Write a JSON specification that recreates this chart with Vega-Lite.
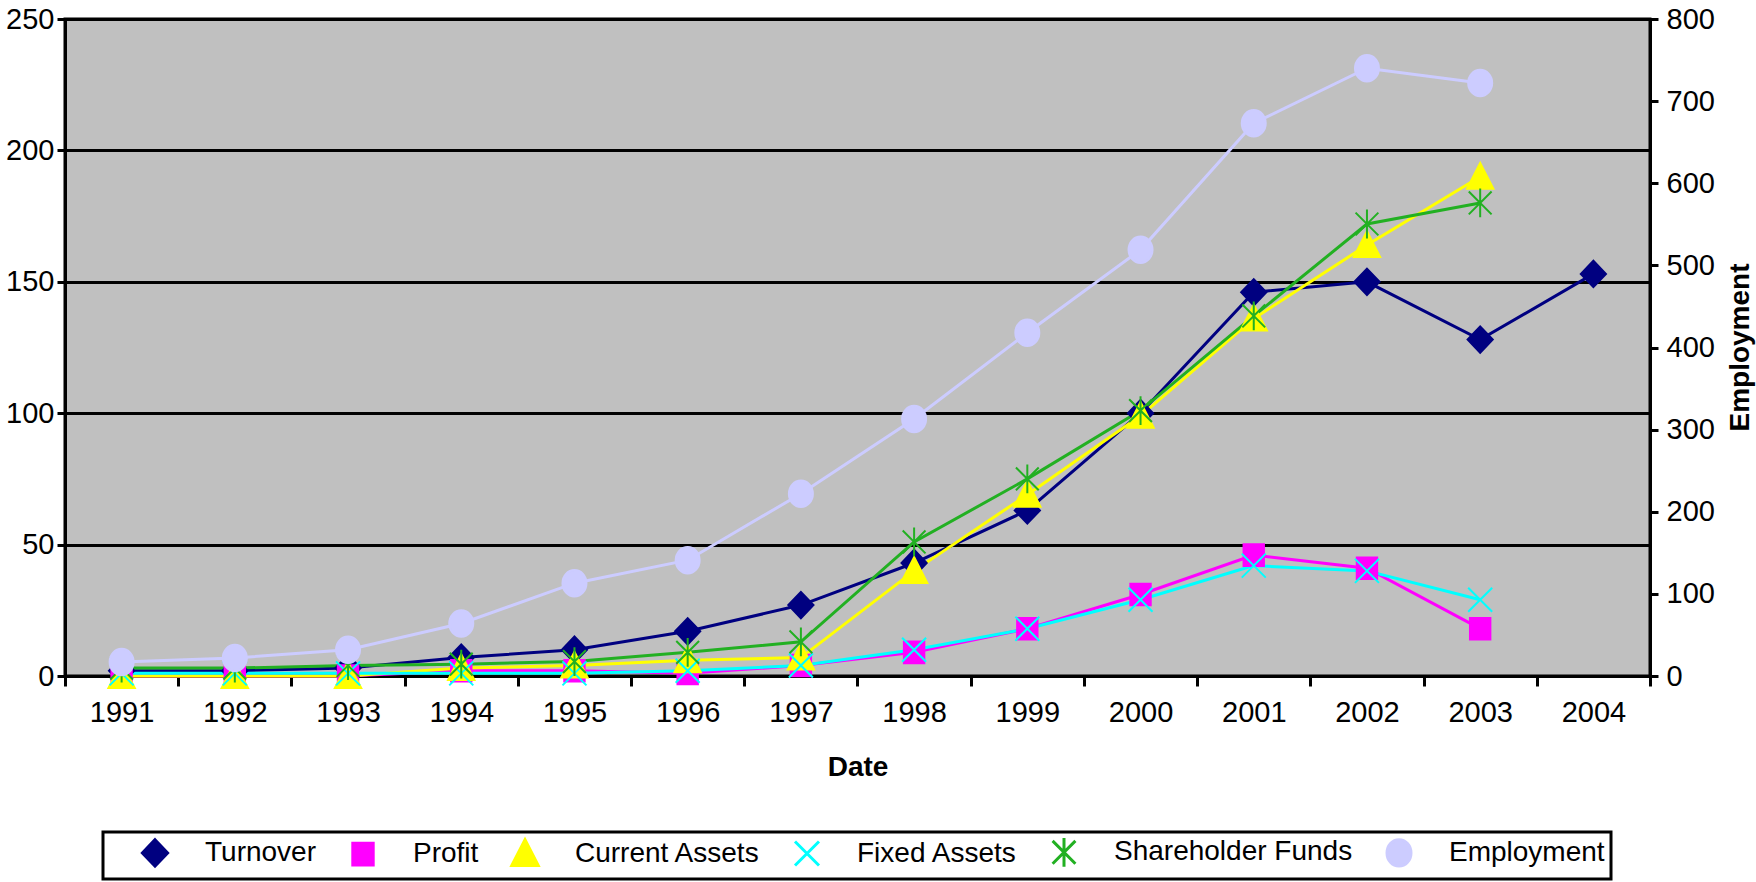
{
  "$schema": "https://vega.github.io/schema/vega-lite/v6.json",
  "width": 1585,
  "height": 657,
  "autosize": {"type": "none"},
  "padding": {"left": 65, "top": 19, "right": 106, "bottom": 206},
  "background": "white",
  "config": {
    "font": "Liberation Sans",
    "view": {"fill": "#C0C0C0", "stroke": "#000000", "strokeWidth": 3},
    "axis": {
      "labelFont": "Liberation Sans", "labelFontSize": 29, "labelColor": "#000000",
      "titleFont": "Liberation Sans", "titleFontSize": 28, "titleFontWeight": "bold", "titleColor": "#000000",
      "domainColor": "#000000", "domainWidth": 3, "tickColor": "#000000", "tickWidth": 3, "tickSize": 9
    },
    "legend": {"strokeWidth": 3}
  },
  "data": {"values": [
    {"Year": "1991", "Series": "Turnover", "Value": 2},
    {"Year": "1992", "Series": "Turnover", "Value": 2},
    {"Year": "1993", "Series": "Turnover", "Value": 3},
    {"Year": "1994", "Series": "Turnover", "Value": 7},
    {"Year": "1995", "Series": "Turnover", "Value": 10},
    {"Year": "1996", "Series": "Turnover", "Value": 17},
    {"Year": "1997", "Series": "Turnover", "Value": 27},
    {"Year": "1998", "Series": "Turnover", "Value": 43},
    {"Year": "1999", "Series": "Turnover", "Value": 63},
    {"Year": "2000", "Series": "Turnover", "Value": 100},
    {"Year": "2001", "Series": "Turnover", "Value": 146},
    {"Year": "2002", "Series": "Turnover", "Value": 150},
    {"Year": "2003", "Series": "Turnover", "Value": 128},
    {"Year": "2004", "Series": "Turnover", "Value": 153},
    {"Year": "1991", "Series": "Profit", "Value": 0},
    {"Year": "1992", "Series": "Profit", "Value": 0},
    {"Year": "1993", "Series": "Profit", "Value": 0},
    {"Year": "1994", "Series": "Profit", "Value": 2},
    {"Year": "1995", "Series": "Profit", "Value": 2},
    {"Year": "1996", "Series": "Profit", "Value": 1},
    {"Year": "1997", "Series": "Profit", "Value": 4},
    {"Year": "1998", "Series": "Profit", "Value": 9},
    {"Year": "1999", "Series": "Profit", "Value": 18},
    {"Year": "2000", "Series": "Profit", "Value": 31},
    {"Year": "2001", "Series": "Profit", "Value": 46},
    {"Year": "2002", "Series": "Profit", "Value": 41},
    {"Year": "2003", "Series": "Profit", "Value": 18},
    {"Year": "1991", "Series": "Current Assets", "Value": 0},
    {"Year": "1992", "Series": "Current Assets", "Value": 0},
    {"Year": "1993", "Series": "Current Assets", "Value": 0},
    {"Year": "1994", "Series": "Current Assets", "Value": 3},
    {"Year": "1995", "Series": "Current Assets", "Value": 4},
    {"Year": "1996", "Series": "Current Assets", "Value": 6},
    {"Year": "1997", "Series": "Current Assets", "Value": 7},
    {"Year": "1998", "Series": "Current Assets", "Value": 40},
    {"Year": "1999", "Series": "Current Assets", "Value": 69},
    {"Year": "2000", "Series": "Current Assets", "Value": 99},
    {"Year": "2001", "Series": "Current Assets", "Value": 136},
    {"Year": "2002", "Series": "Current Assets", "Value": 164},
    {"Year": "2003", "Series": "Current Assets", "Value": 190},
    {"Year": "1991", "Series": "Fixed Assets", "Value": 1},
    {"Year": "1992", "Series": "Fixed Assets", "Value": 1},
    {"Year": "1993", "Series": "Fixed Assets", "Value": 1},
    {"Year": "1994", "Series": "Fixed Assets", "Value": 1},
    {"Year": "1995", "Series": "Fixed Assets", "Value": 1},
    {"Year": "1996", "Series": "Fixed Assets", "Value": 2},
    {"Year": "1997", "Series": "Fixed Assets", "Value": 4},
    {"Year": "1998", "Series": "Fixed Assets", "Value": 10},
    {"Year": "1999", "Series": "Fixed Assets", "Value": 18},
    {"Year": "2000", "Series": "Fixed Assets", "Value": 29},
    {"Year": "2001", "Series": "Fixed Assets", "Value": 42},
    {"Year": "2002", "Series": "Fixed Assets", "Value": 40},
    {"Year": "2003", "Series": "Fixed Assets", "Value": 29},
    {"Year": "1991", "Series": "Shareholder Funds", "Value": 3},
    {"Year": "1992", "Series": "Shareholder Funds", "Value": 3},
    {"Year": "1993", "Series": "Shareholder Funds", "Value": 4},
    {"Year": "1994", "Series": "Shareholder Funds", "Value": 4.5},
    {"Year": "1995", "Series": "Shareholder Funds", "Value": 5.5},
    {"Year": "1996", "Series": "Shareholder Funds", "Value": 9},
    {"Year": "1997", "Series": "Shareholder Funds", "Value": 13},
    {"Year": "1998", "Series": "Shareholder Funds", "Value": 51},
    {"Year": "1999", "Series": "Shareholder Funds", "Value": 75},
    {"Year": "2000", "Series": "Shareholder Funds", "Value": 101},
    {"Year": "2001", "Series": "Shareholder Funds", "Value": 137},
    {"Year": "2002", "Series": "Shareholder Funds", "Value": 172},
    {"Year": "2003", "Series": "Shareholder Funds", "Value": 180},
    {"Year": "1991", "Series": "Employment", "Value": 17},
    {"Year": "1992", "Series": "Employment", "Value": 22},
    {"Year": "1993", "Series": "Employment", "Value": 32},
    {"Year": "1994", "Series": "Employment", "Value": 64},
    {"Year": "1995", "Series": "Employment", "Value": 113},
    {"Year": "1996", "Series": "Employment", "Value": 141},
    {"Year": "1997", "Series": "Employment", "Value": 222},
    {"Year": "1998", "Series": "Employment", "Value": 313},
    {"Year": "1999", "Series": "Employment", "Value": 418},
    {"Year": "2000", "Series": "Employment", "Value": 519},
    {"Year": "2001", "Series": "Employment", "Value": 673},
    {"Year": "2002", "Series": "Employment", "Value": 740},
    {"Year": "2003", "Series": "Employment", "Value": 722}
  ]},
  "layer": [
    {
      "transform": [{"filter": "datum.Series !== 'Employment'"}],
      "encoding": {
        "x": {"field": "Year", "type": "ordinal", "scale": {"type": "band", "paddingInner": 0, "paddingOuter": 0},
              "axis": {"title": "Date", "labelAngle": 0, "tickBand": "extent", "labelPadding": 12, "tickSize": 10, "titleY": 91, "titleBaseline": "middle"}},
        "y": {"field": "Value", "type": "quantitative", "scale": {"domain": [0, 250], "nice": false},
              "axis": {"title": null, "values": [0, 50, 100, 150, 200, 250], "grid": true, "gridColor": "#000000", "gridWidth": 3, "labelPadding": 3, "tickSize": 8}},
        "color": {"field": "Series", "type": "nominal",
                  "scale": {"domain": ["Turnover", "Profit", "Current Assets", "Fixed Assets", "Shareholder Funds", "Employment"],
                            "range": ["#000080", "#FF00FF", "#FFFF00", "#00FFFF", "#22B022", "#CCCCFF"]},
                  "legend": {"title": null, "orient": "none", "legendX": 38, "legendY": 813, "direction": "horizontal", "columns": 6,
                             "labelFont": "Liberation Sans", "labelFontSize": 28, "labelColor": "#000000", "labelLimit": 400,
                             "strokeColor": "#000000", "fillColor": "#FFFFFF", "padding": 6, "columnPadding": 0,
                             "symbolSize": 576, "symbolStrokeWidth": 3, "symbolOffset": 32, "labelOffset": 36,
                             "encode": {"symbols": {"update": {
                               "shape": {"signal": "'M-3.67,0H3.67' + (datum.value === 'Turnover' ? 'M0,-1.1L1.05,0L0,1.1L-1.05,0Z' : datum.value === 'Profit' ? 'M-0.85,-0.9H0.85V0.9H-0.85Z' : datum.value === 'Current Assets' ? 'M0,-1.15L1.1,1L-1.1,1Z' : datum.value === 'Fixed Assets' ? 'M-1,-1L1,1M-1,1L1,-1' : datum.value === 'Shareholder Funds' ? 'M-0.95,-0.95L0.95,0.95M-0.95,0.95L0.95,-0.95M0,-1.2L0,1.2' : 'M-1,0A1,1.1 0 1,1 1,0A1,1.1 0 1,1 -1,0Z')"},
                               "stroke": {"signal": "scale('color', datum.value)"},
                               "fill": {"signal": "scale('color', datum.value)"},
                               "strokeWidth": {"value": 3},
                               "opacity": {"value": 1}
                             }}}}}
      },
      "layer": [
        {"mark": {"type": "line", "strokeWidth": 3}},
        {"mark": {"type": "point", "filled": true, "size": 576, "strokeWidth": 2, "opacity": 1},
         "encoding": {
           "stroke": {"field": "Series", "type": "nominal",
                      "scale": {"domain": ["Turnover", "Profit", "Current Assets", "Fixed Assets", "Shareholder Funds", "Employment"],
                                "range": ["#000080", "#FF00FF", "#FFFF00", "#00FFFF", "#22B022", "#CCCCFF"]},
                      "legend": null},
           "shape": {"field": "Series", "type": "nominal",
                     "scale": {"domain": ["Turnover", "Profit", "Current Assets", "Fixed Assets", "Shareholder Funds", "Employment"],
                               "range": ["M0,-1.1L1.05,0L0,1.1L-1.05,0Z", "M-0.85,-0.9H0.85V0.9H-0.85Z", "M0,-1.15L1.1,1L-1.1,1Z", "M-1,-1L1,1M-1,1L1,-1", "M-0.95,-0.95L0.95,0.95M-0.95,0.95L0.95,-0.95M0,-1.2L0,1.2", "M-1,0A1,1.1 0 1,1 1,0A1,1.1 0 1,1 -1,0Z"]},
                     "legend": null}
         }}
      ]
    },
    {
      "transform": [{"filter": "datum.Series === 'Employment'"}],
      "encoding": {
        "x": {"field": "Year", "type": "ordinal", "scale": {"type": "band", "paddingInner": 0, "paddingOuter": 0},
              "axis": {"title": "Date", "labelAngle": 0, "tickBand": "extent", "labelPadding": 12, "tickSize": 10, "titleY": 91, "titleBaseline": "middle"}},
        "y": {"field": "Value", "type": "quantitative", "scale": {"domain": [0, 800], "nice": false},
              "axis": {"orient": "right", "title": "Employment", "values": [0, 100, 200, 300, 400, 500, 600, 700, 800], "grid": false,
                       "labelPadding": 8, "tickSize": 8, "titleAngle": -90, "titleX": 90, "titleY": 328, "titleAlign": "center", "titleBaseline": "middle"}},
        "color": {"field": "Series", "type": "nominal", "legend": null}
      },
      "layer": [
        {"mark": {"type": "line", "strokeWidth": 3}},
        {"mark": {"type": "point", "filled": true, "size": 576, "strokeWidth": 2, "opacity": 1},
         "encoding": {
           "stroke": {"field": "Series", "type": "nominal", "legend": null},
           "shape": {"field": "Series", "type": "nominal", "legend": null}
         }}
      ]
    }
  ],
  "resolve": {"scale": {"y": "independent"}}
}
